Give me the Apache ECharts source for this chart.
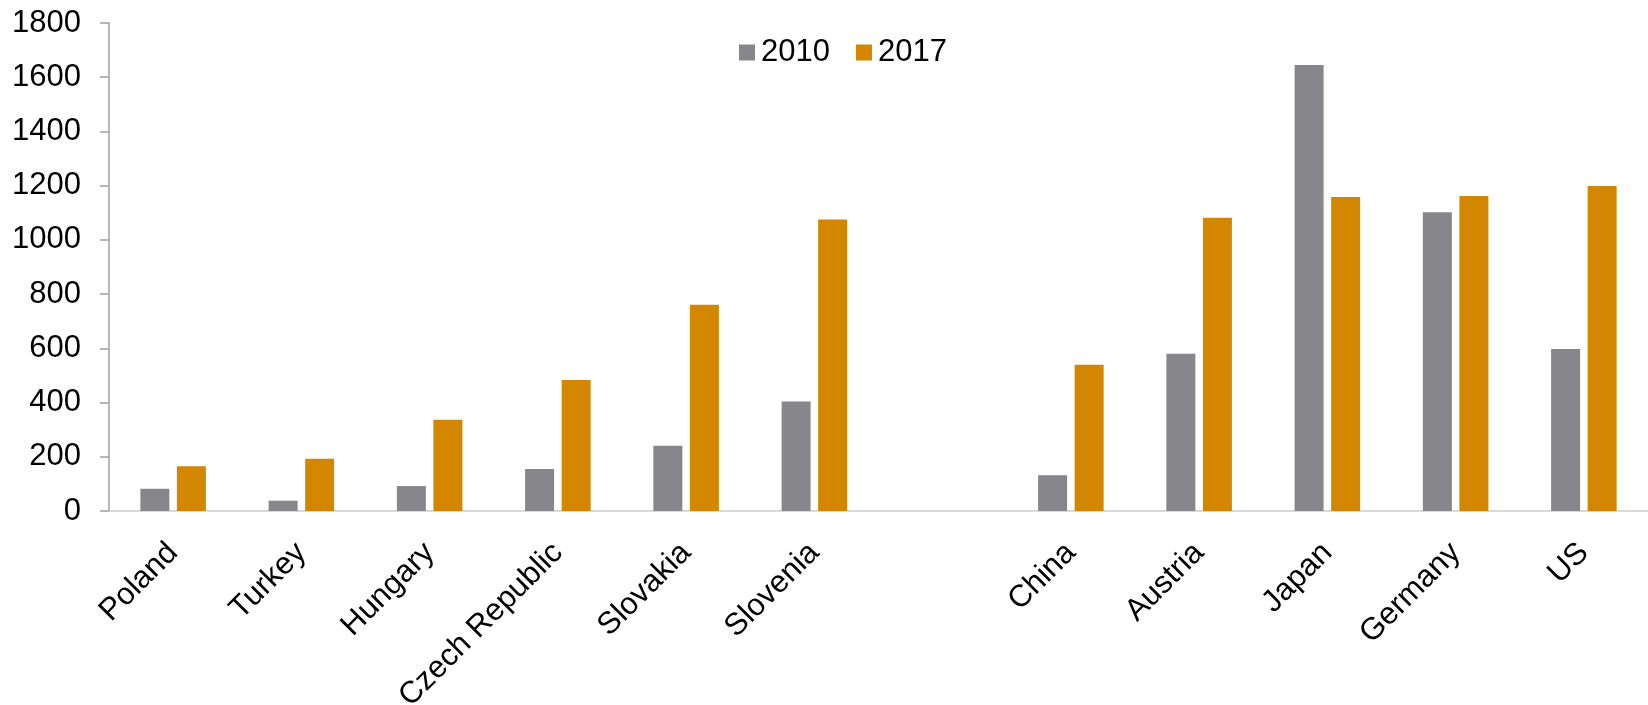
<!DOCTYPE html>
<html>
<head>
<meta charset="utf-8">
<script src="https://cdn.jsdelivr.net/npm/echarts@6/dist/echarts.min.js"></script>
<style>
  html, body { margin: 0; padding: 0; background: #fff; }
  #chart { width: 1648px; height: 705px; }
</style>
</head>
<body>
<div id="chart"></div>
<script>
// categories (blank slot separates the two groups)
const countries = ['Poland', 'Turkey', 'Hungary', 'Czech Republic', 'Slovakia', 'Slovenia', '',
  'China', 'Austria', 'Japan', 'Germany', 'US'];
const values2010 = [82, 38, 92, 155, 241, 404, '-', 132, 580, 1645, 1102, 598];
const values2017 = [165, 193, 337, 483, 761, 1075, '-', 539, 1082, 1158, 1162, 1199];
const yTicks = [0, 200, 400, 600, 800, 1000, 1200, 1400, 1600, 1800];

const chart = echarts.init(document.getElementById('chart'));
const fontFamily = '"Liberation Sans", Arial, sans-serif';

const option = {
  animation: false,
  textStyle: { fontFamily: fontFamily },
  legend: {
    left: 734,
    top: 32,
    icon: 'rect',
    itemWidth: 16,
    itemHeight: 16,
    itemGap: 26,
    textStyle: { fontSize: 31, color: '#000', fontFamily: fontFamily, padding: [0, 0, 0, 1] },
    data: ['2010', '2017']
  },
  grid: {
    left: 109, right: 0, top: 23, bottom: 194,
    containLabel: false,
    outerBoundsMode: 'none' // keep the plot box fixed, labels may run to the edge
  },
  xAxis: {
    type: 'category',
    data: countries,
    axisLine: { show: true, lineStyle: { color: '#d9d9d9', width: 2 } },
    axisTick: { show: false },
    axisLabel: {
      rotate: 45,
      interval: 0,
      margin: 37,
      fontSize: 31,
      color: '#000',
      fontFamily: fontFamily
    }
  },
  yAxis: {
    type: 'value',
    min: yTicks[0],
    max: yTicks[yTicks.length - 1],
    interval: 200,
    splitLine: { show: false },
    axisLine: { show: true, lineStyle: { color: '#a0a0a0', width: 1.5 } },
    axisTick: { show: true, length: 9, lineStyle: { color: '#a0a0a0', width: 1.5 } },
    axisLabel: {
      margin: 28,
      fontSize: 31,
      color: '#000',
      fontFamily: fontFamily,
      formatter: (v) => String(v)
    }
  },
  series: [
    {
      name: '2010',
      type: 'bar',
      data: values2010,
      barWidth: 29,
      barGap: '26%',
      itemStyle: { color: '#87868a' }
    },
    {
      name: '2017',
      type: 'bar',
      data: values2017,
      barWidth: 29,
      itemStyle: { color: '#d38700' }
    }
  ]
};

chart.setOption(option);
</script>
</body>
</html>
